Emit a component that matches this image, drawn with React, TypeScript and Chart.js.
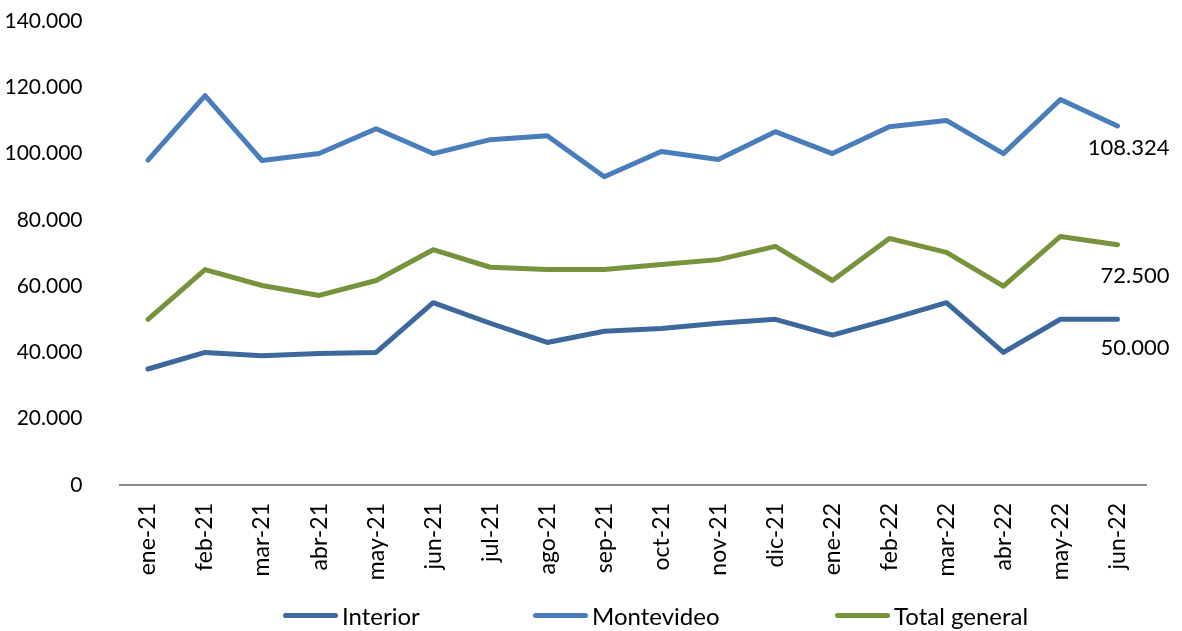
import React, { useEffect, useRef } from "react";
import { Chart, registerables } from "chart.js";

Chart.register(...registerables);

const categories = ["ene-21","feb-21","mar-21","abr-21","may-21","jun-21","jul-21","ago-21","sep-21","oct-21","nov-21","dic-21","ene-22","feb-22","mar-22","abr-22","may-22","jun-22"];
const interior = [35000,40000,39000,39700,40000,55000,48800,43000,46400,47200,48800,50000,45200,50000,55000,40000,50000,50000];
const montevideo = [98000,117500,97900,100000,107500,100000,104200,105400,93000,100600,98200,106600,100000,108100,110000,100000,116300,108324];
const totalGeneral = [50000,65000,60200,57200,61700,71000,65700,65000,65000,66500,68000,72000,61700,74400,70200,60000,75000,72500];
const seriesNames = ["Interior", "Montevideo", "Total general"];
const seriesColors = ["#3C689C", "#4A7EBB", "#77933C"];
const labelYOffsets = [29, 22, 31];

const fmt = (v: number) => {
  const s = Math.round(v).toString();
  return s.replace(/\B(?=(\d{3})+(?!\d))/g, ".");
};

const FONT = "Lato, 'Open Sans', sans-serif";

const lastLabelPlugin = {
  id: "lastLabel",
  afterDatasetsDraw(chart: any) {
    const ctx = chart.ctx;
    ctx.save();
    ctx.font = `22px ${FONT}`;
    ctx.fillStyle = "#000000";
    ctx.textAlign = "right";
    ctx.textBaseline = "middle";
    chart.data.datasets.forEach((ds: any, i: number) => {
      const meta = chart.getDatasetMeta(i);
      const n = ds.data.length - 1;
      const pt = meta.data[n];
      if (!pt) return;
      ctx.fillText(fmt(ds.data[n]), pt.x + 52, pt.y + labelYOffsets[i]);
    });
    ctx.restore();
  },
};

export default function App() {
  const ref = useRef<HTMLCanvasElement>(null);
  useEffect(() => {
    if (!ref.current) return;
    const data = [interior, montevideo, totalGeneral];
    const chart = new Chart(ref.current, {
      type: "line",
      data: {
        labels: categories,
        datasets: data.map((d, i) => ({
          label: seriesNames[i],
          data: d,
          borderColor: seriesColors[i],
          backgroundColor: seriesColors[i],
          borderWidth: 5,
          pointRadius: 0,
          tension: 0,
          borderJoinStyle: "round" as const,
          borderCapStyle: "round" as const,
        })),
      },
      options: {
        animation: false,
        responsive: false,
        maintainAspectRatio: false,
        layout: { padding: { top: 21, right: 36, left: 0, bottom: 0 } },
        plugins: { legend: { display: false }, tooltip: { enabled: false } },
        scales: {
          x: {
            offset: true,
            grid: { display: false, drawTicks: false },
            border: { display: true, color: "#8C8C8C", width: 2 },
            ticks: {
              color: "#000000",
              font: { family: FONT, size: 23 },
              minRotation: 90,
              maxRotation: 90,
              padding: 18,
              autoSkip: false,
            },
            afterFit: (s: any) => { s.height = 146; },
          },
          y: {
            min: 0,
            max: 140000,
            grid: { display: false, drawTicks: false },
            border: { display: false },
            ticks: {
              stepSize: 20000,
              color: "#000000",
              font: { family: FONT, size: 21 },
              padding: 37,
              callback: (v: any) => fmt(Number(v)),
            },
            afterFit: (s: any) => { s.width = 119.5; s.paddingTop = 0; s.paddingBottom = 0; },
          },
        },
      },
      plugins: [lastLabelPlugin],
    });
    return () => chart.destroy();
  }, []);

  const legendLeft = [283, 533, 835];
  return (
    <div style={{ position: "fixed", left: 0, top: 0, width: 1182, height: 631, background: "#fff" }}>
      <canvas ref={ref} width={1182} height={631} style={{ display: "block" }} />
      {seriesNames.map((name, i) => (
        <div
          key={name}
          style={{
            position: "absolute",
            left: legendLeft[i],
            top: 600,
            height: 30,
            display: "flex",
            alignItems: "center",
            fontFamily: FONT,
            fontSize: 24,
            color: "#000",
            whiteSpace: "nowrap",
          }}
        >
          <span style={{ display: "inline-block", width: 55, height: 5, borderRadius: 3, background: seriesColors[i], marginRight: 4 }} />
          <span>{name}</span>
        </div>
      ))}
    </div>
  );
}
